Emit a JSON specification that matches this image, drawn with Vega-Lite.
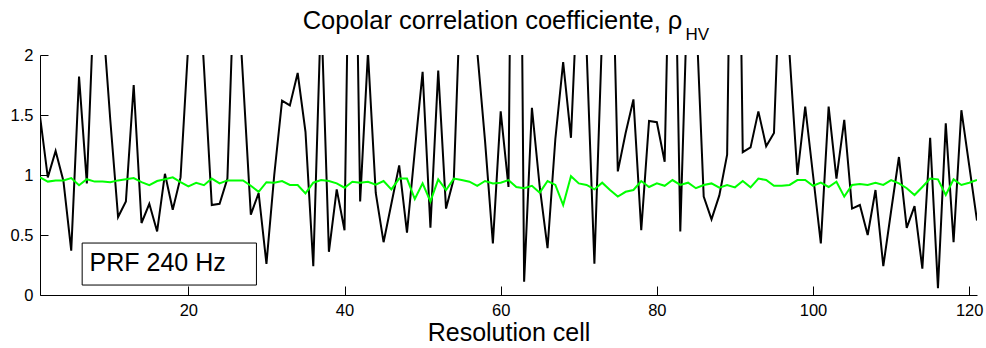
{
  "$schema": "https://vega.github.io/schema/vega-lite/v6.json",
  "width": 937,
  "height": 240,
  "autosize": {"type": "none"},
  "padding": {"left": 40, "top": 55, "right": 9, "bottom": 53},
  "background": "white",
  "config": {
    "view": {"stroke": null},
    "font": "Liberation Sans",
    "axis": {"grid": false, "domainColor": "black", "domainWidth": 1, "tickColor": "black", "tickWidth": 1, "labelColor": "black", "titleColor": "black", "labelFont": "Liberation Sans", "titleFont": "Liberation Sans", "labelFlush": false, "labelOverlap": false}
  },
  "title": {"text": "Copolar correlation coefficiente, ρ", "font": "Liberation Sans", "fontSize": 25.5, "fontWeight": "normal", "color": "black", "anchor": "middle", "frame": "group", "dx": -16, "offset": -8},
  "data": {"values": [
    {"cell": 1, "black": 1.49, "green": 0.98},
    {"cell": 2, "black": 0.98, "green": 0.945},
    {"cell": 3, "black": 1.2, "green": 0.955},
    {"cell": 4, "black": 0.95, "green": 0.955},
    {"cell": 5, "black": 0.37, "green": 0.975},
    {"cell": 6, "black": 1.82, "green": 0.915},
    {"cell": 7, "black": 0.93, "green": 0.965},
    {"cell": 8, "black": 2.6, "green": 0.945},
    {"cell": 9, "black": 2.35, "green": 0.945},
    {"cell": 10, "black": 1.46, "green": 0.94},
    {"cell": 11, "black": 0.65, "green": 0.955},
    {"cell": 12, "black": 0.78, "green": 0.965},
    {"cell": 13, "black": 1.75, "green": 0.975},
    {"cell": 14, "black": 0.6, "green": 0.94},
    {"cell": 15, "black": 0.76, "green": 0.915},
    {"cell": 16, "black": 0.53, "green": 0.95},
    {"cell": 17, "black": 1.01, "green": 0.965},
    {"cell": 18, "black": 0.71, "green": 0.98},
    {"cell": 19, "black": 0.98, "green": 0.94},
    {"cell": 20, "black": 2.1, "green": 0.905},
    {"cell": 21, "black": 3.0, "green": 0.935},
    {"cell": 22, "black": 1.9, "green": 0.915},
    {"cell": 23, "black": 0.75, "green": 0.97},
    {"cell": 24, "black": 0.76, "green": 0.93},
    {"cell": 25, "black": 0.97, "green": 0.955},
    {"cell": 26, "black": 2.9, "green": 0.955},
    {"cell": 27, "black": 1.8, "green": 0.955},
    {"cell": 28, "black": 0.67, "green": 0.91},
    {"cell": 29, "black": 0.85, "green": 0.86},
    {"cell": 30, "black": 0.26, "green": 0.94},
    {"cell": 31, "black": 1.0, "green": 0.936},
    {"cell": 32, "black": 1.62, "green": 0.95},
    {"cell": 33, "black": 1.58, "green": 0.917},
    {"cell": 34, "black": 1.85, "green": 0.917},
    {"cell": 35, "black": 1.36, "green": 0.847},
    {"cell": 36, "black": 0.24, "green": 0.936},
    {"cell": 37, "black": 2.4, "green": 0.958},
    {"cell": 38, "black": 0.36, "green": 0.95},
    {"cell": 39, "black": 0.88, "green": 0.93},
    {"cell": 40, "black": 0.54, "green": 0.894},
    {"cell": 41, "black": 5.0, "green": 0.944},
    {"cell": 42, "black": 0.78, "green": 0.936},
    {"cell": 43, "black": 2.02, "green": 0.944},
    {"cell": 44, "black": 0.85, "green": 0.92},
    {"cell": 45, "black": 0.44, "green": 0.95},
    {"cell": 46, "black": 0.76, "green": 0.88},
    {"cell": 47, "black": 1.08, "green": 0.97},
    {"cell": 48, "black": 0.52, "green": 0.97},
    {"cell": 49, "black": 1.2, "green": 0.8},
    {"cell": 50, "black": 1.86, "green": 0.93},
    {"cell": 51, "black": 0.56, "green": 0.78},
    {"cell": 52, "black": 1.87, "green": 0.964},
    {"cell": 53, "black": 0.72, "green": 0.875},
    {"cell": 54, "black": 0.97, "green": 0.97},
    {"cell": 55, "black": 2.8, "green": 0.958},
    {"cell": 56, "black": 2.7, "green": 0.944},
    {"cell": 57, "black": 2.03, "green": 0.91},
    {"cell": 58, "black": 1.28, "green": 0.95},
    {"cell": 59, "black": 0.43, "green": 0.93},
    {"cell": 60, "black": 1.53, "green": 0.936},
    {"cell": 61, "black": 0.9, "green": 0.958},
    {"cell": 62, "black": 8.0, "green": 0.9},
    {"cell": 63, "black": 0.11, "green": 0.89},
    {"cell": 64, "black": 1.56, "green": 0.91},
    {"cell": 65, "black": 0.9, "green": 0.853},
    {"cell": 66, "black": 0.39, "green": 0.95},
    {"cell": 67, "black": 1.3, "green": 0.917},
    {"cell": 68, "black": 1.94, "green": 0.75},
    {"cell": 69, "black": 1.31, "green": 0.99},
    {"cell": 70, "black": 2.8, "green": 0.93},
    {"cell": 71, "black": 2.05, "green": 0.917},
    {"cell": 72, "black": 0.26, "green": 0.88},
    {"cell": 73, "black": 2.2, "green": 0.936},
    {"cell": 74, "black": 3.7, "green": 0.875},
    {"cell": 75, "black": 1.03, "green": 0.82},
    {"cell": 76, "black": 1.35, "green": 0.86},
    {"cell": 77, "black": 1.63, "green": 0.875},
    {"cell": 78, "black": 0.54, "green": 0.95},
    {"cell": 79, "black": 1.45, "green": 0.9},
    {"cell": 80, "black": 1.44, "green": 0.93},
    {"cell": 81, "black": 1.11, "green": 0.91},
    {"cell": 82, "black": 4.2, "green": 0.958},
    {"cell": 83, "black": 0.53, "green": 0.917},
    {"cell": 84, "black": 2.7, "green": 0.936},
    {"cell": 85, "black": 2.4, "green": 0.89},
    {"cell": 86, "black": 0.82, "green": 0.917},
    {"cell": 87, "black": 0.63, "green": 0.93},
    {"cell": 88, "black": 0.83, "green": 0.894},
    {"cell": 89, "black": 1.17, "green": 0.917},
    {"cell": 90, "black": 6.0, "green": 0.897},
    {"cell": 91, "black": 1.19, "green": 0.95},
    {"cell": 92, "black": 1.23, "green": 0.897},
    {"cell": 93, "black": 1.53, "green": 0.97},
    {"cell": 94, "black": 1.24, "green": 0.958},
    {"cell": 95, "black": 1.35, "green": 0.91},
    {"cell": 96, "black": 3.1, "green": 0.91},
    {"cell": 97, "black": 2.0, "green": 0.917},
    {"cell": 98, "black": 1.0, "green": 0.958},
    {"cell": 99, "black": 1.57, "green": 0.958},
    {"cell": 100, "black": 1.0, "green": 0.91},
    {"cell": 101, "black": 0.43, "green": 0.936},
    {"cell": 102, "black": 1.57, "green": 0.9},
    {"cell": 103, "black": 0.97, "green": 0.944},
    {"cell": 104, "black": 1.46, "green": 0.82},
    {"cell": 105, "black": 0.72, "green": 0.917},
    {"cell": 106, "black": 0.75, "green": 0.925},
    {"cell": 107, "black": 0.5, "green": 0.917},
    {"cell": 108, "black": 0.875, "green": 0.936},
    {"cell": 109, "black": 0.24, "green": 0.917},
    {"cell": 110, "black": 0.7, "green": 0.958},
    {"cell": 111, "black": 1.15, "green": 0.93},
    {"cell": 112, "black": 0.56, "green": 0.89},
    {"cell": 113, "black": 0.74, "green": 0.833},
    {"cell": 114, "black": 0.22, "green": 0.9},
    {"cell": 115, "black": 1.31, "green": 0.97},
    {"cell": 116, "black": 0.056, "green": 0.964},
    {"cell": 117, "black": 1.43, "green": 0.833},
    {"cell": 118, "black": 0.44, "green": 0.964},
    {"cell": 119, "black": 1.54, "green": 0.917},
    {"cell": 120, "black": 1.08, "green": 0.936},
    {"cell": 121, "black": 0.62, "green": 0.958}
  ]},
  "layer": [
    {
      "mark": {"type": "line", "color": "black", "strokeWidth": 2, "clip": true},
      "encoding": {
        "x": {"field": "cell", "type": "quantitative", "scale": {"domain": [1, 121], "nice": false, "zero": false},
          "axis": {"values": [20, 40, 60, 80, 100, 120], "tickSize": -9, "labelPadding": 16, "labelFontSize": 16.5, "title": "Resolution cell", "titleFontSize": 25, "titleFontWeight": "normal", "titlePadding": 2}},
        "y": {"field": "black", "type": "quantitative", "scale": {"domain": [0, 2], "nice": false, "zero": false},
          "axis": {"values": [0, 0.5, 1, 1.5, 2], "format": "~g", "tickSize": -8, "labelPadding": 15, "labelFontSize": 16.5, "title": null}}
      }
    },
    {
      "mark": {"type": "line", "color": "#00ff00", "strokeWidth": 2, "clip": true},
      "encoding": {
        "x": {"field": "cell", "type": "quantitative"},
        "y": {"field": "green", "type": "quantitative"}
      }
    },
    {
      "data": {"values": [{}]},
      "mark": {"type": "rect", "fill": "white", "stroke": "black", "strokeWidth": 1},
      "encoding": {
        "x": {"datum": 6.4, "type": "quantitative"},
        "x2": {"datum": 28.72},
        "y": {"datum": 0.433, "type": "quantitative"},
        "y2": {"datum": 0.083}
      }
    },
    {
      "data": {"values": [{}]},
      "mark": {"type": "text", "text": "PRF 240 Hz", "font": "Liberation Sans", "fontSize": 25, "align": "left", "baseline": "middle", "color": "black"},
      "encoding": {
        "x": {"datum": 7.35, "type": "quantitative"},
        "y": {"datum": 0.265, "type": "quantitative"}
      }
    },
    {
      "data": {"values": [{}]},
      "mark": {"type": "text", "text": "HV", "font": "Liberation Sans", "fontSize": 17, "align": "left", "baseline": "alphabetic", "color": "black"},
      "encoding": {
        "x": {"datum": 83.67, "type": "quantitative"},
        "y": {"datum": 2.125, "type": "quantitative"}
      }
    }
  ]
}
